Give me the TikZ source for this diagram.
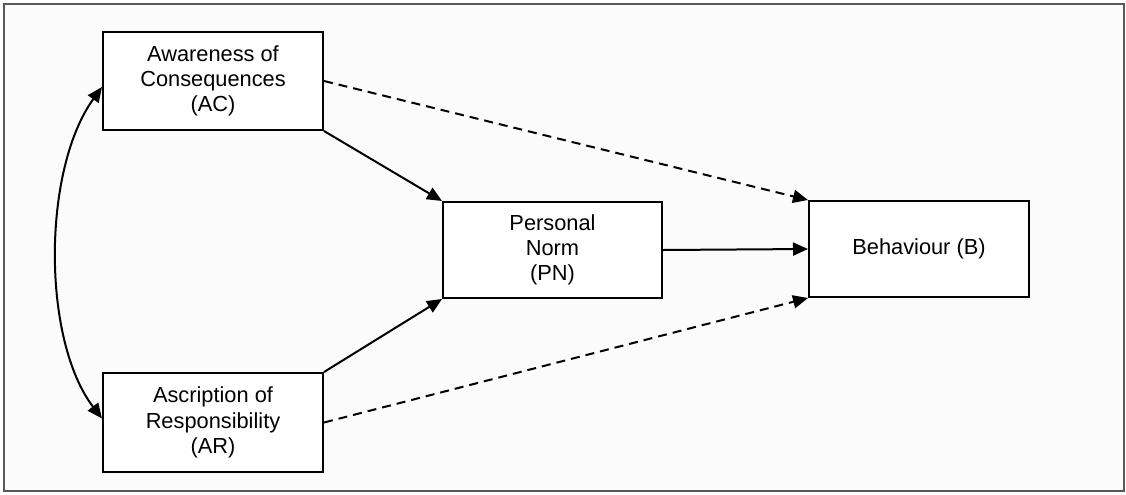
\documentclass[tikz,border=0pt]{standalone}
\usepackage{fontspec}
\setmainfont{Liberation Sans}
\usetikzlibrary{arrows.meta}
\begin{document}
\begin{tikzpicture}[x=0.5pt,y=-0.5pt,
  box/.style={draw,line width=1pt,fill=white,inner sep=0pt,align=center,
    font=\fontsize{10.9pt}{12.6pt}\selectfont},
  link/.style={line width=1pt,-{Triangle[length=7.5pt,width=6.5pt]}},
  dashlink/.style={link,dash pattern=on 4.5pt off 3pt}]
\useasboundingbox (0,0) rectangle (1126,494);
\draw[gray!70!black,line width=0.7pt,fill=gray!3] (4,4) rectangle (1124,491);
% the four constructs
\node[box,minimum width=110pt,minimum height=49pt] (ac) at (213,81) {Awareness of\\Consequences\\(AC)};
\node[box,minimum width=110pt,minimum height=49.5pt] (ar) at (213,422.5) {Ascription of\\Responsibility\\(AR)};
\node[box,minimum width=109.5pt,minimum height=48pt] (pn) at (552.5,250) {Personal\\Norm\\(PN)};
\node[box,minimum width=110pt,minimum height=48pt] (b) at (919,249) {Behaviour (B)};
% direct paths
\draw[link] (ac.south east) -- (pn.north west);
\draw[link] (ar.north east) -- (pn.south west);
\draw[link] (pn.east) -- (b.west);
\draw[dashlink] (ac.east) -- (b.north west);
\draw[dashlink] (ar.east) -- (b.south west);
% correlation between AC and AR
\draw[line width=1pt,{Triangle[length=7.5pt,width=6.5pt]}-{Triangle[length=7.5pt,width=6.5pt]}]
  ([yshift=-3pt]ac.west) .. controls (42,170) and (42,340) .. ([yshift=2pt]ar.west);
\end{tikzpicture}
\end{document}
